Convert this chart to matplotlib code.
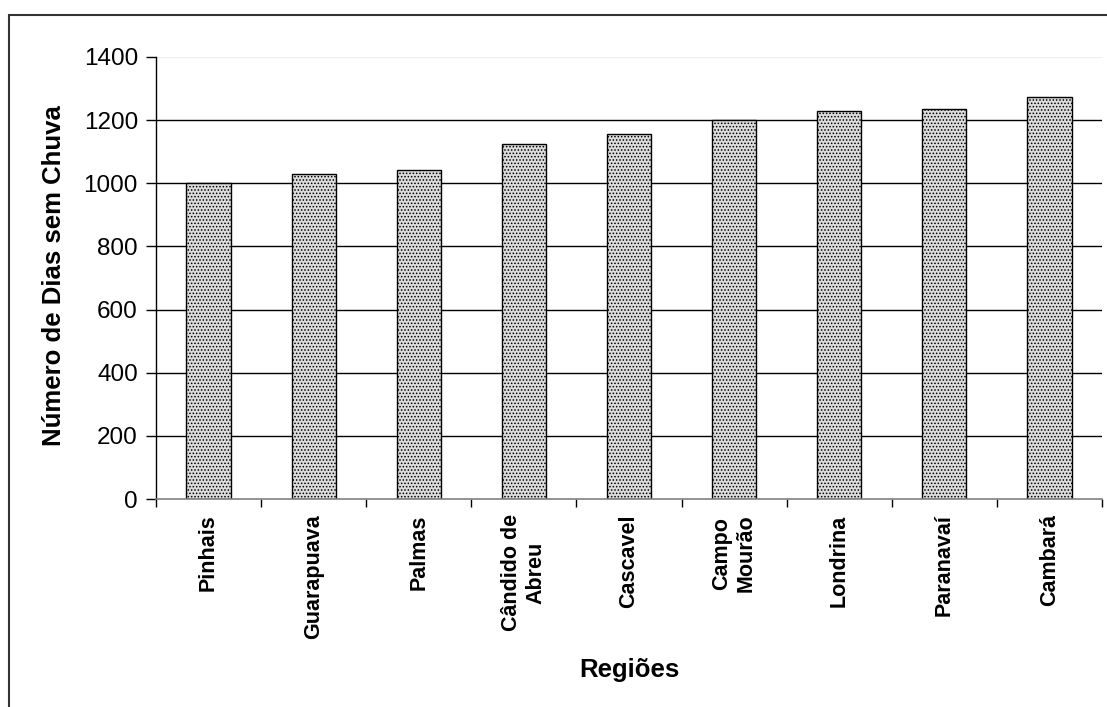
import matplotlib
matplotlib.use("Agg")
import matplotlib.pyplot as plt
from matplotlib.patches import Rectangle

regioes = ["Pinhais", "Guarapuava", "Palmas", "Cândido de\nAbreu", "Cascavel",
           "Campo\nMourão", "Londrina", "Paranavaí", "Cambará"]
dias = [1000, 1030, 1043, 1125, 1157, 1200, 1229, 1236, 1273]
yticks = [0, 200, 400, 600, 800, 1000, 1200, 1400]

plt.rcParams['font.family'] = ['Liberation Sans', 'DejaVu Sans']
plt.rcParams['hatch.color'] = '#333333'
plt.rcParams['hatch.linewidth'] = 0.7

W, H = 1107, 707
fig = plt.figure(figsize=(W / 100, H / 100), dpi=100)
ax = fig.add_axes([156 / W, 1 - 499 / H, (1102 - 156) / W, (499 - 57) / H])

x = list(range(len(regioes)))
ax.bar(x, dias, width=0.42, facecolor='#dcdcdc', edgecolor='black',
       linewidth=1.0, hatch='.....', zorder=3)

ax.set_xlim(-0.5, len(regioes) - 0.5)
ax.set_ylim(0, 1400)
ax.set_yticks(yticks)
ax.set_yticklabels([str(v) for v in yticks], fontsize=17.5)
for v in yticks[1:-1]:
    ax.axhline(v, color='black', linewidth=1.0, zorder=1)
ax.axhline(1400, color='#eeeeee', linewidth=1.0, zorder=1)

# category boundaries as major ticks, labels at centers as minor ticks
ax.set_xticks([i - 0.5 for i in range(len(regioes) + 1)])
ax.set_xticklabels([])
ax.set_xticks(x, minor=True)
ax.set_xticklabels(regioes, minor=True, rotation=90, fontsize=15.5,
                   fontweight='bold', va='top', ha='center',
                   multialignment='center', linespacing=1.25)
ax.tick_params(axis='x', which='major', length=6, width=1, color='black',
               direction='out')
ax.tick_params(axis='x', which='minor', length=0, pad=11)
ax.tick_params(axis='y', length=7, width=1, direction='out', pad=6)

for s in ['top', 'right']:
    ax.spines[s].set_visible(False)
ax.spines['left'].set_color('black')
ax.spines['left'].set_linewidth(1.0)
ax.spines['bottom'].set_color('#808080')
ax.spines['bottom'].set_linewidth(1.2)
ax.spines['bottom'].set_zorder(4)

ax.set_ylabel("Número de Dias sem Chuva", fontsize=18.5, fontweight='bold')
ax.yaxis.set_label_coords((66 - 156) / (1102 - 156), 0.505)
fig.text(629 / W, 1 - 670 / H, "Regiões", fontsize=18.5, fontweight='bold',
         ha='center', va='center')

border = Rectangle((8.5 / W, -0.05), 1.2, 1 - 14.5 / H + 0.05,
                   transform=fig.transFigure, fill=False,
                   edgecolor='#333333', linewidth=1.5, clip_on=False)
fig.patches.append(border)

fig.savefig("out.png", dpi=100, facecolor='white')
